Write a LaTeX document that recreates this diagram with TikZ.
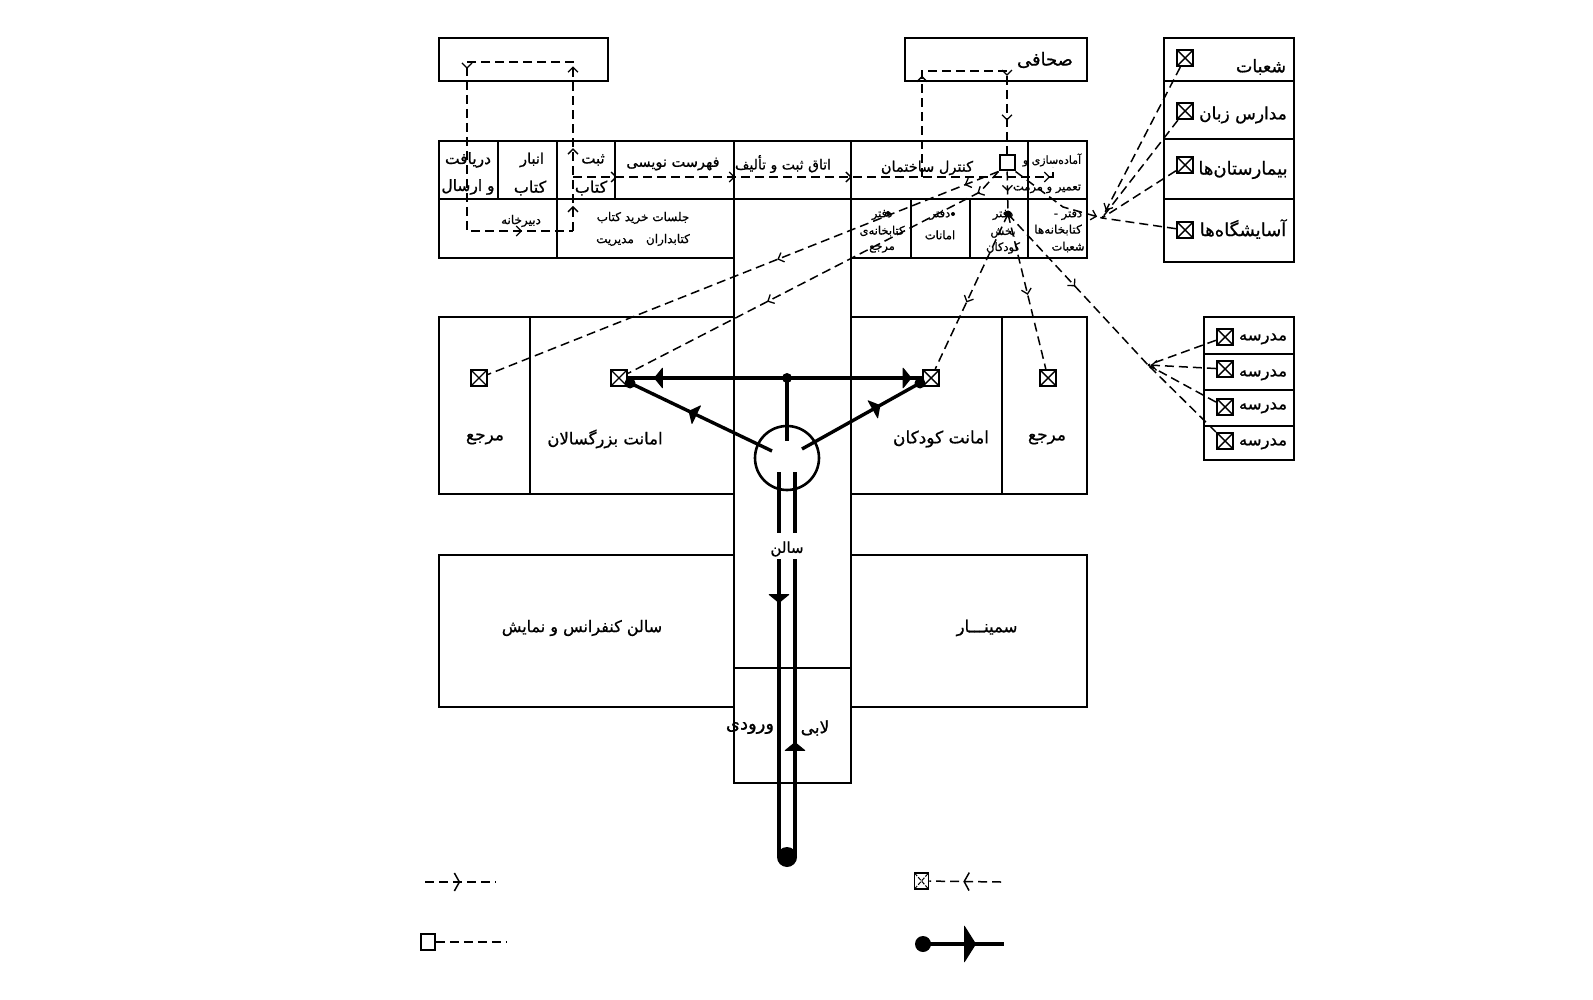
\documentclass[tikz,border=0pt]{standalone}
\usepackage{fontspec}
\usetikzlibrary{decorations.markings}
\newfontfamily\arabicfont[Script=Arabic,FakeBold=0.8]{DejaVu Sans}
\TeXXeTstate=1
\newcommand{\fa}[1]{{\arabicfont\beginR #1\endR}}
\tikzset{
  wall/.style={line width=2pt,line cap=rect},
  heavy/.style={line width=3.4pt},
  flow/.style={line width=1.5pt,dash pattern=on 9pt off 5pt},
  barb at/.style={postaction={decorate,decoration={markings,mark=at position #1 with {\draw[solid,line width=1.3pt] (-4pt,-5pt)--(1pt,0pt)--(-4pt,5pt);}}}},
  big barb at/.style={postaction={decorate,decoration={markings,mark=at position #1 with {\draw[solid,line width=1.5pt] (-4pt,-9pt)--(1pt,0pt)--(-4pt,9pt);}}}},
  fin at/.style={postaction={decorate,decoration={markings,mark=at position #1 with {\fill[rounded corners=1pt] (-3pt,-11pt)--(6pt,0pt)--(-3pt,11pt)--cycle;}}}},
  big fin at/.style={postaction={decorate,decoration={markings,mark=at position #1 with {\fill[rounded corners=1pt] (-1pt,-19pt)--(11pt,0pt)--(-1pt,19pt)--cycle;}}}},
  xbox/.style={draw,line width=2.2pt,fill=white,minimum width=16pt,minimum height=16pt,inner sep=0pt,
    path picture={\draw[line width=1.4pt] (path picture bounding box.south west)--(path picture bounding box.north east) (path picture bounding box.north west)--(path picture bounding box.south east);}},
  ctrl/.style={draw,line width=2pt,fill=white,minimum width=15pt,minimum height=15pt,inner sep=0pt},
  blob/.style={circle,fill=black,inner sep=0pt,minimum size=#1},
  lb/.style={inner sep=0pt,yshift=-2pt,font=\fontsize{#1}{#1}\selectfont},
}
\begin{document}
\begin{tikzpicture}[x=1pt,y=-1pt]
\useasboundingbox (0,0) rectangle (1593,1000);
\fill[white] (0,0) rectangle (1593,1000);
% ---- walls
\draw[wall] (439,38) rectangle (608,81);
\draw[wall] (905,38) rectangle (1087,81);
\draw[wall] (1164,38) rectangle (1294,262);
\draw[wall] (1164,81)--(1294,81) (1164,139)--(1294,139) (1164,199)--(1294,199);
\draw[wall] (1204,317) rectangle (1294,460);
\draw[wall] (1204,354)--(1294,354) (1204,390)--(1294,390) (1204,426)--(1294,426);
\draw[wall] (439,141)--(1087,141)--(1087,258)--(851,258);
\draw[wall] (439,141)--(439,258)--(734,258);
\draw[wall] (439,199)--(1087,199);
\draw[wall] (498,141)--(498,199) (557,141)--(557,258) (615,141)--(615,199);
\draw[wall] (1028,141)--(1028,258) (911,199)--(911,258) (970,199)--(970,258);
\draw[wall] (734,141)--(734,783)--(851,783)--(851,141);
\draw[wall] (734,668)--(851,668);
\draw[wall] (734,317)--(439,317)--(439,494)--(734,494) (530,317)--(530,494);
\draw[wall] (851,317)--(1087,317)--(1087,494)--(851,494) (1002,317)--(1002,494);
\draw[wall] (734,555)--(439,555)--(439,707)--(734,707);
\draw[wall] (851,555)--(1087,555)--(1087,707)--(851,707);
% ---- labels
\node[lb=18] (tSahafi) at (1045,58) {\fa{صحافی}};
\node[lb=17.5] (tShoab) at (1261,65) {\fa{شعبات}};
\node[lb=17] (tZaban) at (1243,113) {\fa{مدارس زبان}};
\node[lb=18] (tBimar) at (1243,168) {\fa{بیمارستان‌ها}};
\node[lb=18] (tAsayesh) at (1243,227) {\fa{آسایشگاه‌ها}};
\node[lb=16.5] (tMad1) at (1263,337) {\fa{مدرسه}};
\node[lb=16.5] (tMad2) at (1263,373) {\fa{مدرسه}};
\node[lb=16.5] (tMad3) at (1263,406) {\fa{مدرسه}};
\node[lb=16.5] (tMad4) at (1263,442) {\fa{مدرسه}};
\node[lb=15.5] (tDar) at (468,158) {\fa{دریافت}};
\node[lb=15.5] (tErsal) at (468,185) {\fa{و ارسال}};
\node[lb=14.5] (tAnbar) at (532,158) {\fa{انبار}};
\node[lb=16] (tKet1) at (530,186) {\fa{کتاب}};
\node[lb=15] (tSabt) at (593,158) {\fa{ثبت}};
\node[lb=16] (tKet2) at (591,186) {\fa{کتاب}};
\node[lb=14.5] (tFehrest) at (673,162) {\fa{فهرست نویسی}};
\node[lb=14] (tOtagh) at (783,162) {\fa{اتاق ثبت و تألیف}};
\node[lb=14.5] (tKontrol) at (927,166) {\fa{کنترل ساختمان}};
\node[lb=11] (tAmade) at (1052,158) {\fa{آماده‌سازی و}};
\node[lb=11.5] (tTamir) at (1047,187) {\fa{تعمیر و مرمت}};
\node[lb=12] (tDabir) at (521,219) {\fa{دبیرخانه}};
\node[lb=12] (tJalasat) at (643,216) {\fa{جلسات خرید کتاب}};
\node[lb=12] (tKetabdar) at (643,238) {\fa{کتابداران\quad مدیریت}};
\node[lb=11.5] (tO1a) at (882,213) {\fa{دفتر}};
\node[lb=11.5] (tO1b) at (882,229) {\fa{کتابخانه‌ی}};
\node[lb=11.5] (tO1c) at (882,247) {\fa{مرجع}};
\node[lb=11.5] (tO2a) at (940,213) {\fa{دفتر}};
\node[lb=11.5] (tO2b) at (940,233) {\fa{امانات}};
\node[lb=11.5] (tO3a) at (1003,213) {\fa{دفتر}};
\node[lb=11.5] (tO3b) at (1003,231) {\fa{بخش}};
\node[lb=11.5] (tO3c) at (1003,246) {\fa{کودکان}};
\node[lb=11.5] (tO4a) at (1068,213) {\fa{دفتر -}};
\node[lb=12] (tO4b) at (1058,228) {\fa{کتابخانه‌ها}};
\node[lb=11.5] (tO4c) at (1068,245) {\fa{شعبات}};
\node[lb=17] (tMarjaL) at (485,437) {\fa{مرجع}};
\node[lb=16.5] (tBozorg) at (605,437) {\fa{امانت بزرگسالان}};
\node[lb=17] (tKoodak) at (941,437) {\fa{امانت کودکان}};
\node[lb=17] (tMarjaR) at (1047,437) {\fa{مرجع}};
\node[lb=15] (tSalon) at (787,547) {\fa{سالن}};
\node[lb=16] (tKonf) at (582,626) {\fa{سالن کنفرانس و نمایش}};
\node[lb=16.5] (tSemi) at (987,626) {\fa{سمینـــار}};
\node[lb=18] (tVorudi) at (750,726) {\fa{ورودی}};
\node[lb=17] (tLabi) at (815,726) {\fa{لابی}};
% ---- nodes of the flows
\node[ctrl] (c) at (1007,163) {};
\node[xbox] (s1) at (1185,58) {};
\node[xbox] (s2) at (1185,111) {};
\node[xbox] (s3) at (1185,165) {};
\node[xbox] (s4) at (1185,230) {};
\node[xbox] (m1) at (1225,337) {};
\node[xbox] (m2) at (1225,369) {};
\node[xbox] (m3) at (1225,407) {};
\node[xbox] (m4) at (1225,441) {};
\node[xbox] (xml) at (479,378) {};
\node[xbox] (xb) at (619,378) {};
\node[xbox] (xk) at (931,378) {};
\node[xbox] (xmr) at (1048,378) {};
\node[draw,circle,line width=2.6pt,minimum size=64pt,inner sep=0pt] (hub) at (787,458) {};
\coordinate (j1) at (1102,218);
\coordinate (j2) at (1148,365);
\coordinate (off3) at (1008,214);
\coordinate (bend1) at (980,192);
\coordinate (bend2) at (1063,207);
% loop over the upper left box
\coordinate (la) at (573,231); \coordinate (lb1) at (573,62); \coordinate (lc) at (467,62); \coordinate (ld) at (467,231);
\draw[flow,barb at=0.042,barb at=0.147,barb at=0.296,barb at=0.509,barb at=0.904] (la)--(lb1)--(lc)--(ld)--(la);
% horizontal line in the band
\coordinate (ha) at (573,177); \coordinate (hb) at (1053,177); \coordinate (hc) at (1053,167);
\draw[flow,barb at=0.086,barb at=0.327,barb at=0.565,barb at=0.97] (ha)--(hb)--(hc);
% loop over the press office
\coordinate (pa) at (922,177); \coordinate (pb) at (922,71); \coordinate (pc) at (1007,71);
\draw[flow,barb at=0.362,barb at=0.707,barb at=0.87] (pa)--(pb)--(pc)--(c);
% from the control box
\draw[flow,barb at=0.063,barb at=0.43] (c.south west)--(xml);
\draw[flow,barb at=0.068,barb at=0.626] (c.south west)--(bend1)--(xb);
\draw[flow,barb at=0.42] (c)--(off3);
\draw[flow,barb at=0.56] (off3)--(xk);
\draw[flow,barb at=0.51] (off3)--(xmr);
\draw[flow,barb at=0.47] (off3)--(j2);
\draw[flow,barb at=0.93] (c.south east)--(bend2)--(j1);
\fill (off3) circle (3.5pt);
\fill (953,214) circle (2pt) (888,213) circle (2pt);
% branches
\draw[flow,barb at=0.94] (s1)--(j1);
\draw[flow] (s2)--(j1);
\draw[flow] (s3)--(j1);
\draw[flow] (s4)--(j1);
\draw[flow] (m1)--(j2);
\draw[flow,barb at=0.93] (m2)--(j2);
\draw[flow] (m3)--(j2);
\draw[flow] (m4)--(j2);
% heavy routes
\node[blob=10pt] (h) at (787,378) {};
\node[blob=11pt] (da) at (630,383) {};
\node[blob=11pt] (dk) at (920,383) {};
\node[blob=20pt] (door) at (787,857) {};
\coordinate (hl) at (772,451); \coordinate (hr) at (802,449); \coordinate (hd) at (787,441);
\draw[heavy,fin at=0.8] (h.center)--(xb.east);
\draw[heavy,fin at=0.88] (h.center)--(xk.west);
\draw[heavy] (h.center)--(hd);
\draw[heavy,fin at=0.55] (hl)--(da.center);
\draw[heavy,fin at=0.62] (hr)--(dk.center);
\coordinate (a1) at (779,472); \coordinate (a2) at (779,533); \coordinate (a3) at (779,559); \coordinate (a4) at (779,857);
\coordinate (b1) at (795,472); \coordinate (b2) at (795,533); \coordinate (b3) at (795,559); \coordinate (b4) at (795,857);
\draw[heavy] (a1)--(a2) (b1)--(b2);
\draw[heavy,fin at=0.128] (a3)--(a4);
\draw[heavy,fin at=0.366] (b4)--(b3);
% ---- legend
\coordinate (k1a) at (425,882); \coordinate (k1b) at (496,882);
\draw[flow,big barb at=0.47] (k1a)--(k1b);
\node[draw,line width=1.6pt,minimum width=14pt,minimum height=16pt,inner sep=0pt] (k2) at (428,942) {};
\coordinate (k2b) at (506,942);
\draw[flow] (k2)--(k2b);
\node[draw,line width=1.6pt,minimum width=14pt,minimum height=16pt,inner sep=0pt,
  path picture={\draw[line width=1pt,dash pattern=on 4pt off 1.5pt] (path picture bounding box.south west)--(path picture bounding box.north east) (path picture bounding box.north west)--(path picture bounding box.south east);}] (k3) at (921.5,881) {};
\coordinate (k3b) at (1001,882);
\draw[flow,big barb at=0.5] (k3b)--(k3);
\node[circle,fill=black,inner sep=0pt,minimum size=16pt] (k4) at (923,944) {};
\coordinate (k4b) at (1004,944);
\draw[heavy,big fin at=0.52] (k4.center)--(k4b);
\end{tikzpicture}
\end{document}
